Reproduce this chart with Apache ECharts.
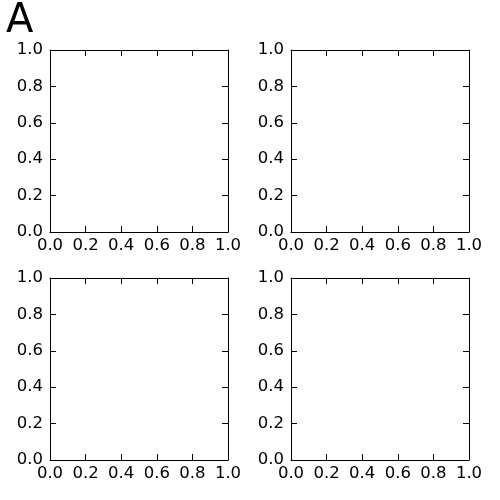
<!DOCTYPE html>
<html>
<head>
<meta charset="utf-8">
<script src="https://cdn.jsdelivr.net/npm/echarts@6/dist/echarts.min.js"></script>
<style>html,body{margin:0;padding:0;background:#fff}#c{width:500px;height:500px}</style>
</head>
<body>
<div id="c"></div>
<script>
var panelTitle = "A";
var axisMin = 0.0;
var axisMax = 1.0;
var tickStep = 0.2;
var tickLabels = ["0.0", "0.2", "0.4", "0.6", "0.8", "1.0"];

var FONT = "DejaVu Sans";
var grids = [
  {left: 50, right: 272, top: 50, bottom: 268},
  {left: 291, right: 31, top: 50, bottom: 268},
  {left: 50, right: 272, top: 278, bottom: 40},
  {left: 291, right: 31, top: 278, bottom: 40}
];

function fmt(v){
  var i = Math.round((v - axisMin) / tickStep);
  return tickLabels[i] !== undefined ? tickLabels[i] : v.toFixed(1);
}

var xAxes = [], yAxes = [];
grids.forEach(function(g, gi){
  ['bottom','top'].forEach(function(pos){
    xAxes.push({
      type: 'value', gridIndex: gi, position: pos,
      min: axisMin, max: axisMax, interval: tickStep,
      axisLine: {show: true, onZero: false, lineStyle: {color: '#000', width: 1}},
      axisTick: {show: true, inside: true, length: 6, lineStyle: {color: '#000', width: 1}},
      axisLabel: {show: pos === 'bottom', formatter: fmt, color: '#000', fontFamily: FONT, fontSize: 16.5, margin: 5},
      splitLine: {show: false}
    });
  });
  ['left','right'].forEach(function(pos){
    yAxes.push({
      type: 'value', gridIndex: gi, position: pos,
      min: axisMin, max: axisMax, interval: tickStep,
      axisLine: {show: true, onZero: false, lineStyle: {color: '#000', width: 1}},
      axisTick: {show: true, inside: true, length: 6, lineStyle: {color: '#000', width: 1}},
      axisLabel: {show: pos === 'left', formatter: fmt, color: '#000', fontFamily: FONT, fontSize: 16.5, margin: 7},
      splitLine: {show: false}
    });
  });
});

var chart = echarts.init(document.getElementById('c'), null, {renderer: 'canvas'});
chart.setOption({
  animation: false,
  backgroundColor: '#fff',
  title: {text: panelTitle, left: 1, top: -3, textStyle: {fontFamily: FONT, fontSize: 40, fontWeight: 'normal', color: '#000'}},
  grid: grids,
  xAxis: xAxes,
  yAxis: yAxes,
  series: []
});
</script>
</body>
</html>
